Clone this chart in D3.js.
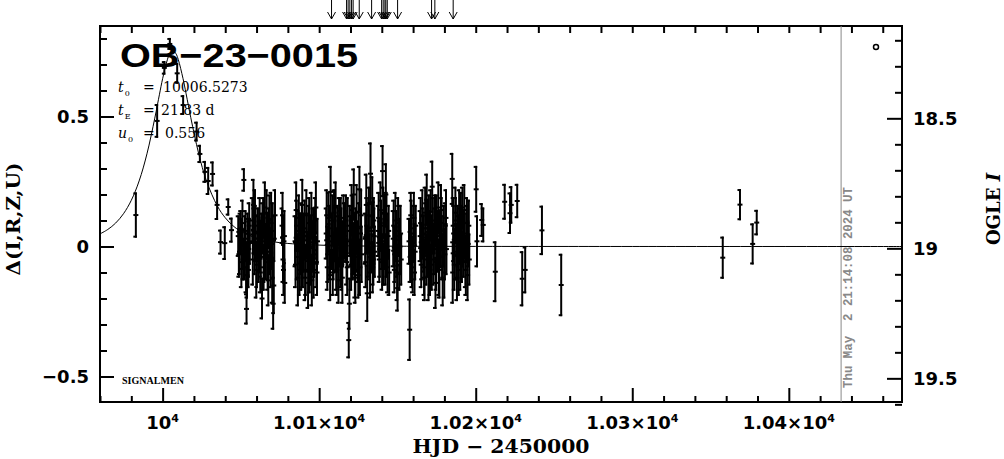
<!DOCTYPE html>
<html>
<head>
<meta charset="utf-8">
<script src="https://cdn.jsdelivr.net/npm/d3@7/dist/d3.min.js"></script>
<style>
  html, body { margin: 0; padding: 0; background: #fff; }
  svg { display: block; }
</style>
</head>
<body>
<script>
// ---------- data ----------
const eventName = "OB\u221223\u22120015";
const paramT0 = "10006.5273";
const paramTE = "21.83 d";
const paramU0 = "0.556";
const dateStamp = "Thu May  2 21:14:08 2024 UT";
const nowHJD = 10433.4;

// observations: HJD-2450000, Delta mag, error
const obsHJD = [
  9982.9, 9996.5, 10001.1, 10004.6, 10009.3, 10013.1, 10021.7, 10023.8, 10027.0, 10029.1, 10031.9, 10034.8, 10037.0, 10039.7, 10041.9, 10044.0,
  10048.3, 10049.1, 10049.9, 10050.6, 10051.4, 10051.9, 10052.6, 10053.3, 10053.6, 10054.2, 10054.8, 10055.0, 10055.7,
  10057.3, 10058.0, 10058.7, 10059.4, 10060.2, 10060.9, 10061.6, 10062.4, 10063.1, 10063.5, 10064.2, 10064.9, 10065.7, 10066.4, 10067.1, 10067.9, 10068.6, 10069.3, 10070.0, 10070.6, 10071.3, 10071.8,
  10076.3, 10076.9, 10077.5, 10078.0,
  10084.6, 10085.3, 10086.0, 10086.7, 10087.4, 10088.2, 10088.9, 10089.6, 10090.3, 10091.0, 10091.8, 10092.5, 10093.2, 10093.9, 10094.6, 10095.3, 10096.1, 10096.8, 10097.5, 10098.2, 10098.9,
  10104.5, 10105.2, 10105.9, 10106.6, 10107.3, 10108.0, 10108.7, 10109.5, 10110.2, 10110.9, 10111.6, 10112.3, 10113.0, 10113.8, 10114.5, 10115.2, 10115.9,
  10116.8, 10117.5, 10118.2, 10118.9, 10119.3, 10120.0, 10120.7, 10121.4, 10122.1, 10122.8, 10123.5, 10124.2, 10125.0, 10125.7, 10126.4, 10127.1,
  10129.4, 10130.1, 10130.7, 10131.4, 10132.1, 10132.8, 10133.5, 10134.2, 10134.9, 10135.5,
  10137.7, 10138.4, 10139.1, 10139.8, 10140.5, 10141.2, 10141.9, 10142.6, 10143.3, 10144.0, 10144.7,
  10147.3, 10148.0, 10148.7, 10149.4, 10150.1, 10150.8, 10151.6, 10152.4,
  10157.4, 10157.8, 10158.5, 10159.3, 10160.1, 10160.9, 10161.7,
  10164.5, 10165.2, 10165.9, 10166.6, 10167.3, 10168.0, 10168.7, 10169.4, 10170.1, 10170.8, 10171.5, 10172.2, 10172.9, 10173.6, 10174.3, 10175.0, 10175.7, 10176.4, 10177.1, 10177.8, 10178.5, 10179.2, 10179.9, 10180.6, 10181.3,
  10185.0, 10185.3, 10185.9, 10186.6, 10187.3, 10188.0, 10188.7, 10189.4, 10190.1, 10190.8, 10191.5, 10192.3, 10193.0, 10193.7, 10194.4, 10195.2, 10195.9,
  10200.3, 10200.8,
  10203.8, 10204.8, 10212.5, 10218.5, 10221.9, 10222.7, 10226.5, 10229.7, 10231.6, 10242.3, 10254.6,
  10357.8, 10368.8, 10376.9, 10379.5,
  // second set of nightly points inside the dense seasons
  10048.7, 10049.5, 10050.3, 10051.0, 10052.2, 10052.9, 10053.9, 10054.5, 10055.3,
  10057.6, 10058.3, 10059.0, 10059.8, 10060.5, 10061.2, 10062.0, 10062.7, 10063.8, 10064.5, 10065.3, 10066.0, 10066.8, 10067.5, 10068.2, 10068.9, 10069.7, 10070.3, 10071.0,
  10076.6, 10077.2, 10077.8,
  10084.9, 10085.6, 10086.4, 10087.0, 10087.8, 10088.5, 10089.2, 10090.0, 10090.7, 10091.4, 10092.1, 10092.9, 10093.6, 10094.3, 10095.0, 10095.7, 10096.4, 10097.2, 10097.9, 10098.6,
  10104.8, 10105.5, 10106.3, 10107.0, 10107.7, 10108.4, 10109.1, 10109.8, 10110.5, 10111.3, 10112.0, 10112.7, 10113.4, 10114.1, 10114.8, 10115.5,
  10117.1, 10117.9, 10119.6, 10120.4, 10121.0, 10121.7, 10122.5, 10123.1, 10123.9, 10124.6, 10125.3, 10126.0, 10126.8,
  10129.7, 10130.4, 10131.1, 10131.8, 10132.5, 10133.2, 10133.9, 10134.6, 10135.2,
  10138.0, 10138.7, 10139.5, 10140.2, 10140.9, 10141.5, 10142.3, 10143.0, 10143.7, 10144.4,
  10147.6, 10148.3, 10149.1, 10149.8, 10150.4, 10151.2, 10152.0,
  10158.1, 10158.9, 10159.7, 10160.5, 10161.3,
  10164.8, 10165.5, 10166.2, 10167.0, 10167.7, 10168.4, 10169.1, 10169.8, 10170.5, 10171.2, 10171.9, 10172.6, 10173.3, 10174.0, 10174.7, 10175.4, 10176.1, 10176.8, 10177.5, 10178.2, 10178.9, 10179.6, 10180.3, 10181.0,
  10185.6, 10186.3, 10187.0, 10187.7, 10188.4, 10189.1, 10189.8, 10190.5, 10191.2, 10191.9, 10192.7, 10193.4, 10194.1, 10194.8, 10195.6
];
const obsDelta = [
  0.121, 0.483, 0.687, 0.779, 0.666, 0.544, 0.442, 0.356, 0.287, 0.252, 0.279, 0.160, 0.017, 0.013, 0.152, 0.063,
  0.04, -0.02, 0.07, 0.01, -0.05, 0.256, 0.03, -0.08, -0.24, 0.05, -0.09, -0.01, 0.02,
  0.10, 0.16, -0.03, 0.05, -0.07, 0.08, 0.00, -0.10, 0.04, -0.20, 0.11, -0.04, 0.02, 0.13, -0.06, 0.07, -0.02, 0.09, -0.12, -0.22, 0.03, 0.12,
  0.08, -0.05, 0.02, -0.14,
  0.02, 0.14, -0.04, 0.06, -0.09, 0.01, 0.09, -0.05, 0.04, -0.12, 0.12, -0.02, 0.05, -0.08, 0.03, -0.13, 0.07, -0.03, 0.10, -0.06, 0.02,
  0.05, -0.08, 0.11, -0.02, 0.21, 0.04, -0.10, 0.13, 0.00, -0.05, 0.07, -0.13, 0.03, 0.09, -0.07, 0.01, 0.06,
  0.04, -0.06, 0.08, -0.36, -0.22, 0.02, 0.14, -0.04, 0.20, -0.09, 0.06, 0.00, -0.11, 0.22, 0.05, -0.03,
  0.03, 0.16, -0.18, 0.07, -0.04, 0.28, 0.01, -0.08, 0.10, -0.02,
  0.06, -0.05, 0.14, 0.01, 0.29, -0.07, 0.09, 0.20, -0.02, 0.04, -0.10,
  0.03, -0.09, 0.10, -0.02, -0.16, 0.06, 0.00, -0.05,
  0.02, -0.32, 0.12, -0.06, 0.05, -0.10, 0.08,
  0.04, -0.07, 0.12, 0.01, -0.12, 0.07, 0.18, -0.03, 0.09, -0.09, 0.03, 0.23, -0.05, 0.06, -0.14, 0.11, 0.00, -0.08, 0.05, 0.14, -0.04, 0.02, -0.10, 0.08, -0.01,
  0.26, -0.10, 0.05, -0.03, 0.10, -0.12, 0.02, 0.12, -0.06, 0.07, 0.15, -0.02, 0.04, -0.09, 0.09, 0.01, -0.05,
  0.22, 0.02,
  0.102, 0.083, -0.097, 0.172, 0.128, 0.160, 0.175, -0.124, -0.090, 0.062, -0.148,
  -0.043, 0.161, 0.010, 0.092,
  -0.03, 0.05, -0.06, 0.09, -0.03, 0.06, -0.11, 0.01, 0.08,
  -0.05, 0.06, 0.12, -0.09, 0.03, -0.04, 0.10, -0.01, 0.07, -0.08, 0.15, -0.02, 0.04, -0.13, 0.10, -0.07, 0.01, 0.06, -0.15,
  0.12, -0.09, 0.04,
  -0.07, 0.08, -0.12, 0.11, 0.03, -0.06, 0.16, -0.01, 0.07, -0.09, 0.04, -0.14, 0.09, -0.04, 0.12, 0.00, -0.09, 0.05, 0.15, -0.10,
  0.12, -0.03, 0.07, -0.11, 0.02, 0.10, -0.04, 0.05, 0.15, -0.09, 0.01, 0.10, -0.06, 0.04, -0.12, 0.11,
  0.10, -0.08, 0.06, -0.07, 0.09, -0.01, 0.04, -0.12, 0.13, -0.04, 0.07, -0.08, 0.12,
  -0.06, 0.08, -0.02, 0.12, -0.10, 0.06, 0.17, -0.05, 0.04,
  0.11, -0.01, 0.08, -0.06, 0.13, 0.02, -0.05, 0.10, -0.08, 0.06,
  0.08, -0.03, 0.04, -0.10, 0.09, -0.07, 0.05,
  -0.04, 0.07, -0.08, 0.11, -0.02,
  0.09, -0.02, 0.05, -0.08, 0.13, -0.05, 0.07, -0.11, 0.03, 0.12, -0.07, 0.08, -0.01, 0.10, -0.06, 0.04, 0.15, -0.09, 0.02, 0.09, -0.12, 0.06, -0.03, 0.11,
  0.08, -0.07, 0.13, -0.02, 0.06, -0.09, 0.04, 0.11, -0.04, 0.03, 0.14, -0.06, 0.05, -0.11, 0.08
];
const obsErr = [
  0.087, 0.065, 0.026, 0.023, 0.040, 0.038, 0.038, 0.035, 0.042, 0.054, 0.048, 0.058, 0.048, 0.065, 0.033, 0.048,
  0.08, 0.09, 0.07, 0.10, 0.08, 0.045, 0.09, 0.10, 0.06, 0.08, 0.07, 0.11, 0.09,
  0.09, 0.10, 0.08, 0.11, 0.09, 0.07, 0.10, 0.08, 0.09, 0.08, 0.08, 0.10, 0.07, 0.09, 0.11, 0.08, 0.09, 0.12, 0.10, 0.10, 0.09, 0.10,
  0.07, 0.09, 0.10, 0.08,
  0.10, 0.11, 0.09, 0.08, 0.10, 0.12, 0.08, 0.11, 0.09, 0.09, 0.10, 0.08, 0.11, 0.10, 0.09, 0.10, 0.08, 0.09, 0.09, 0.10, 0.09,
  0.10, 0.09, 0.10, 0.11, 0.10, 0.08, 0.09, 0.09, 0.10, 0.12, 0.09, 0.09, 0.11, 0.10, 0.10, 0.09, 0.11,
  0.10, 0.09, 0.11, 0.07, 0.10, 0.10, 0.10, 0.09, 0.10, 0.11, 0.09, 0.10, 0.09, 0.09, 0.10, 0.11,
  0.10, 0.12, 0.11, 0.10, 0.09, 0.12, 0.11, 0.10, 0.09, 0.10,
  0.10, 0.09, 0.11, 0.10, 0.10, 0.08, 0.11, 0.12, 0.10, 0.09, 0.09,
  0.11, 0.09, 0.11, 0.10, 0.09, 0.10, 0.11, 0.10,
  0.09, 0.12, 0.09, 0.10, 0.11, 0.09, 0.08,
  0.10, 0.09, 0.10, 0.11, 0.09, 0.10, 0.10, 0.09, 0.11, 0.10, 0.09, 0.10, 0.10, 0.09, 0.10, 0.09, 0.10, 0.11, 0.09, 0.10, 0.09, 0.10, 0.10, 0.09, 0.10,
  0.10, 0.12, 0.11, 0.10, 0.09, 0.09, 0.10, 0.10, 0.11, 0.09, 0.08, 0.10, 0.09, 0.10, 0.10, 0.09, 0.10,
  0.09, 0.10,
  0.065, 0.067, 0.117, 0.069, 0.080, 0.072, 0.066, 0.106, 0.090, 0.095, 0.120,
  0.081, 0.060, 0.079, 0.049,
  0.09, 0.08, 0.10, 0.09, 0.10, 0.08, 0.09, 0.10, 0.09,
  0.10, 0.09, 0.10, 0.11, 0.09, 0.10, 0.09, 0.11, 0.10, 0.09, 0.10, 0.11, 0.09, 0.10, 0.10, 0.09, 0.10, 0.11, 0.11,
  0.09, 0.10, 0.10,
  0.09, 0.10, 0.11, 0.09, 0.10, 0.11, 0.10, 0.09, 0.11, 0.10, 0.09, 0.10, 0.10, 0.11, 0.09, 0.10, 0.11, 0.10, 0.10, 0.09,
  0.10, 0.11, 0.09, 0.10, 0.11, 0.10, 0.09, 0.11, 0.10, 0.10, 0.11, 0.09, 0.10, 0.11, 0.10, 0.09,
  0.10, 0.11, 0.10, 0.10, 0.11, 0.10, 0.09, 0.10, 0.11, 0.10, 0.10, 0.11, 0.10,
  0.10, 0.11, 0.10, 0.11, 0.10, 0.11, 0.10, 0.10, 0.11,
  0.10, 0.11, 0.10, 0.11, 0.10, 0.11, 0.10, 0.11, 0.10, 0.10,
  0.10, 0.11, 0.10, 0.11, 0.10, 0.10, 0.11,
  0.10, 0.11, 0.10, 0.10, 0.11,
  0.10, 0.11, 0.10, 0.11, 0.10, 0.10, 0.11, 0.10, 0.11, 0.10, 0.10, 0.11, 0.10, 0.10, 0.11, 0.10, 0.10, 0.11, 0.10, 0.10, 0.11, 0.10, 0.10, 0.11,
  0.11, 0.10, 0.10, 0.11, 0.10, 0.10, 0.11, 0.10, 0.10, 0.11, 0.10, 0.10, 0.11, 0.10, 0.10
];

// model light curve
const modelHJD = [9960, 9965, 9970, 9975, 9980, 9985, 9990, 9995, 9998, 10000, 10003, 10004.5, 10006.53, 10008.5, 10010, 10013, 10015, 10018, 10023, 10028, 10035, 10040, 10045, 10050, 10060, 10070, 10080, 10110, 10150, 10200, 10300, 10472];
const modelDelta = [0.0485, 0.0656, 0.0902, 0.1260, 0.1777, 0.2521, 0.3565, 0.4937, 0.5857, 0.6452, 0.7179, 0.7410, 0.7530, 0.7416, 0.7189, 0.6467, 0.5874, 0.4953, 0.3579, 0.2526, 0.1553, 0.1105, 0.0796, 0.0582, 0.0324, 0.0191, 0.0118, 0.0035, 0.0012, 0.0004, 0.0001, 0.0];

// arrows at the top (HJD-2450000)
const arrowHJD = [10107.9, 10117.5, 10118.5, 10119.6, 10120.7, 10121.7, 10125.6, 10133.5, 10139.9, 10140.9, 10142.0, 10142.6, 10143.5, 10150.1, 10171.8, 10173.9, 10185.6];

// axes
const xDomain = [9960, 10472.3];
const yDomain = [-0.598, 0.848];
const baseMag = 18.993;
const xMajorTicks = [10000, 10100, 10200, 10300, 10400];
const xTickMantissa = ["", "1.01\u00d7", "1.02\u00d7", "1.03\u00d7", "1.04\u00d7"];
const xMinorTicks = [9960, 9980, 10020, 10040, 10060, 10080, 10120, 10140, 10160, 10180, 10220, 10240, 10260, 10280, 10320, 10340, 10360, 10380, 10420, 10440, 10460];
const yMajorTicks = [-0.5, 0, 0.5];
const yMinorTicks = [-0.4, -0.3, -0.2, -0.1, 0.1, 0.2, 0.3, 0.4, 0.6, 0.7, 0.8];
const magMajorTicks = [18.5, 19, 19.5];
const magMinorTicks = [18.2, 18.3, 18.4, 18.6, 18.7, 18.8, 18.9, 19.1, 19.2, 19.3, 19.4, 19.6];

// ---------- drawing ----------
const W = 1004, H = 459;
const L = 100, R = 902, T = 26, B = 402;

const svg = d3.select("body").append("svg").attr("width", W).attr("height", H);
svg.append("rect").attr("width", W).attr("height", H).attr("fill", "#fff");

const x = d3.scaleLinear().domain(xDomain).range([L, R]);
const y = d3.scaleLinear().domain(yDomain).range([B, T]);
const yMag = d3.scaleLinear().domain([baseMag - yDomain[0], baseMag - yDomain[1]]).range([B, T]);

const sansBold = "'DejaVu Sans', sans-serif";
const serif = "'DejaVu Serif', serif";

function styleAxis(g) {
  g.select(".domain").remove();
  g.selectAll(".tick line").attr("stroke", "#000").attr("stroke-width", 2);
  g.selectAll("text").attr("fill", "#000");
}

// bottom axis
svg.append("g").attr("transform", `translate(0,${B})`)
  .call(d3.axisBottom(x).tickValues(xMinorTicks).tickSize(-6).tickFormat(""))
  .call(styleAxis);
svg.append("g").attr("transform", `translate(0,${B})`)
  .call(d3.axisBottom(x).tickValues(xMajorTicks).tickSize(-14).tickFormat(""))
  .call(styleAxis);
// top axis
svg.append("g").attr("transform", `translate(0,${T})`)
  .call(d3.axisTop(x).tickValues(xMinorTicks.concat(xMajorTicks)).tickSize(-7).tickFormat(""))
  .call(styleAxis);

// bottom tick labels
const xl = svg.append("g").attr("font-family", sansBold).attr("font-weight", "bold").attr("font-size", 18).attr("fill", "#000");
xMajorTicks.forEach((v, i) => {
  const t = xl.append("text").attr("x", x(v)).attr("y", 429).attr("text-anchor", "middle");
  t.append("tspan").text(xTickMantissa[i] + "10");
  t.append("tspan").attr("font-size", 11).attr("dy", -7).text("4");
});

// left axis
svg.append("g").attr("transform", `translate(${L},0)`)
  .call(d3.axisLeft(y).tickValues(yMinorTicks).tickSize(-7).tickFormat(""))
  .call(styleAxis);
svg.append("g").attr("transform", `translate(${L},0)`)
  .call(d3.axisLeft(y).tickValues(yMajorTicks).tickSize(-14).tickPadding(11).tickFormat(d3.format("")))
  .call(styleAxis)
  .call(g => g.selectAll("text").attr("font-family", sansBold).attr("font-weight", "bold").attr("font-size", 18));

// right axis (OGLE I magnitude)
svg.append("g").attr("transform", `translate(${R},0)`)
  .call(d3.axisRight(yMag).tickValues(magMinorTicks).tickSize(-7).tickFormat(""))
  .call(styleAxis);
svg.append("g").attr("transform", `translate(${R},0)`)
  .call(d3.axisRight(yMag).tickValues(magMajorTicks).tickSize(-15).tickPadding(11).tickFormat(d3.format("")))
  .call(styleAxis)
  .call(g => g.selectAll("text").attr("font-family", sansBold).attr("font-weight", "bold").attr("font-size", 18));

// frame
svg.append("rect").attr("x", L).attr("y", T).attr("width", R - L).attr("height", B - T)
  .attr("fill", "none").attr("stroke", "#000").attr("stroke-width", 2);

// current date line
svg.append("line").attr("x1", x(nowHJD)).attr("x2", x(nowHJD)).attr("y1", T).attr("y2", B)
  .attr("stroke", "#888").attr("stroke-width", 1);
svg.append("text").attr("transform", `translate(${x(nowHJD) + 11},388) rotate(-90)`)
  .attr("font-family", "'Liberation Mono', monospace").attr("font-weight", "bold").attr("font-size", 12)
  .attr("fill", "#888").attr("textLength", 201).attr("lengthAdjust", "spacingAndGlyphs")
  .attr("xml:space", "preserve").style("white-space", "pre").text(dateStamp);

// clip for plot contents
svg.append("clipPath").attr("id", "plotclip").append("rect")
  .attr("x", L).attr("y", T).attr("width", R - L).attr("height", B - T);
const plot = svg.append("g").attr("clip-path", "url(#plotclip)");

// model curve
const line = d3.line().x(d => x(d[0])).y(d => y(d[1])).curve(d3.curveCatmullRom.alpha(0.5));
plot.append("path").datum(modelHJD.map((t, i) => [t, modelDelta[i]]))
  .attr("d", line).attr("fill", "none").attr("stroke", "#000").attr("stroke-width", 1);

// observations with error bars
const obs = obsHJD.map((t, i) => ({ t, d: obsDelta[i], e: obsErr[i] }));
const og = plot.append("g").attr("stroke", "#000").attr("stroke-width", 2);
obs.forEach(o => {
  const cx = x(o.t), y1 = y(o.d + o.e), y2 = y(o.d - o.e), cy = y(o.d);
  og.append("line").attr("x1", cx).attr("x2", cx).attr("y1", y1).attr("y2", y2);
  og.append("line").attr("x1", cx - 2.5).attr("x2", cx + 1).attr("y1", y1 + 1).attr("y2", y1 + 1);
  og.append("line").attr("x1", cx - 2.5).attr("x2", cx + 1).attr("y1", y2 - 1).attr("y2", y2 - 1);
  og.append("line").attr("x1", cx - 2.5).attr("x2", cx + 2.5).attr("y1", cy).attr("y2", cy);
});

// arrows above the frame
const ag = svg.append("g").attr("stroke", "#000").attr("stroke-width", 1).attr("fill", "none");
arrowHJD.forEach(t => {
  const ax = x(t);
  ag.append("line").attr("x1", ax).attr("x2", ax).attr("y1", 0).attr("y2", 19);
  ag.append("path").attr("d", `M${ax - 4},12 L${ax},19 L${ax + 4},12`);
});

// legend symbol
svg.append("circle").attr("cx", 876).attr("cy", 47).attr("r", 2.5)
  .attr("fill", "none").attr("stroke", "#000").attr("stroke-width", 1.5);

// title
svg.append("text").attr("x", 120).attr("y", 67)
  .attr("font-family", "'Liberation Sans', sans-serif").attr("font-weight", "bold").attr("font-size", 34)
  .attr("textLength", 238).attr("lengthAdjust", "spacingAndGlyphs").attr("fill", "#000").text(eventName);

// parameters
const pg = svg.append("g").attr("font-family", serif).attr("font-size", 14).attr("fill", "#000");
function paramLine(yb, sym, sub, val, valX) {
  const t = pg.append("text").attr("x", 118).attr("y", yb);
  t.append("tspan").attr("font-style", "italic").text(sym);
  t.append("tspan").attr("font-size", 8).attr("dy", 4).attr("dx", 1).text(sub);
  pg.append("text").attr("x", 143).attr("y", yb).text("=");
  pg.append("text").attr("x", valX).attr("y", yb).text(val);
}
paramLine(92, "t", "0", paramT0, 163);
paramLine(115, "t", "E", paramTE, 161);
paramLine(138, "u", "0", paramU0, 165);

// SIGNALMEN
svg.append("text").attr("x", 122).attr("y", 384)
  .attr("font-family", "'Liberation Serif', serif").attr("font-weight", "bold").attr("font-size", 10)
  .attr("textLength", 62).attr("lengthAdjust", "spacingAndGlyphs").attr("fill", "#000").text("SIGNALMEN");

// axis titles
svg.append("text").attr("transform", "translate(20,219) rotate(-90)").attr("text-anchor", "middle")
  .attr("font-family", serif).attr("font-weight", "bold").attr("font-size", 19)
  .attr("textLength", 113).attr("lengthAdjust", "spacingAndGlyphs").attr("fill", "#000").text("\u0394(I,R,Z,U)");
const ot = svg.append("text").attr("transform", "translate(1000,209) rotate(-90)").attr("text-anchor", "middle")
  .attr("font-family", serif).attr("font-weight", "bold").attr("font-size", 18).attr("fill", "#000");
ot.append("tspan").text("OGLE ");
ot.append("tspan").attr("font-style", "italic").text("I");
svg.append("text").attr("x", (L + R) / 2).attr("y", 453).attr("text-anchor", "middle")
  .attr("font-family", serif).attr("font-weight", "bold").attr("font-size", 19)
  .attr("textLength", 177).attr("lengthAdjust", "spacingAndGlyphs").attr("fill", "#000")
  .attr("xml:space", "preserve").style("white-space", "pre").text("HJD \u2212 2450000");
</script>
</body>
</html>
